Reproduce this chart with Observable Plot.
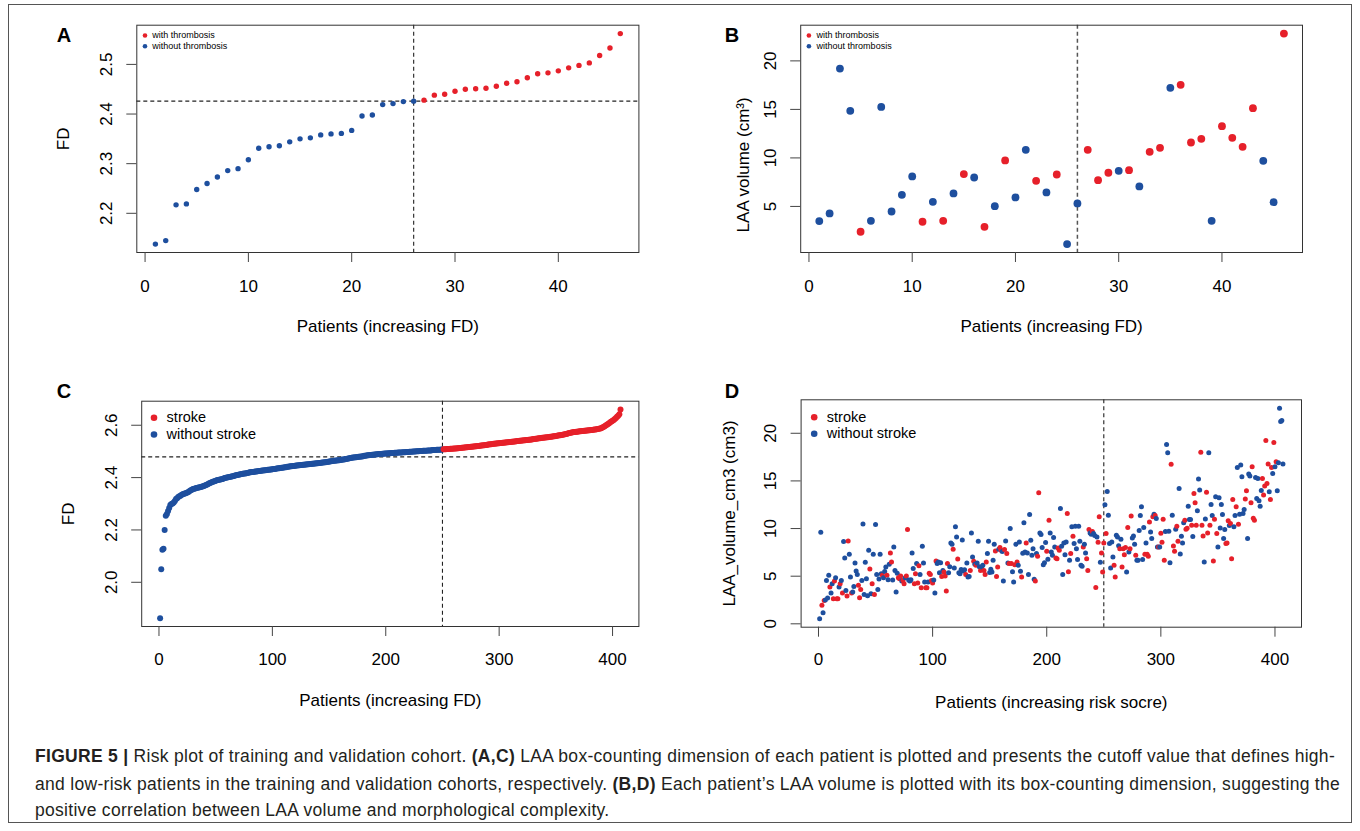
<!DOCTYPE html>
<html><head><meta charset="utf-8">
<script src="https://cdn.jsdelivr.net/npm/d3@7"></script>
<script src="https://cdn.jsdelivr.net/npm/@observablehq/plot@0.6"></script>
<style>
html,body{margin:0;padding:0;background:#fff;}
#fig{position:relative;width:1360px;height:831px;overflow:hidden;font-family:"Liberation Sans",Arial,sans-serif;background:#fff;}
.panel{position:absolute;}
.panel svg{overflow:visible;max-width:none;}
.letter{position:absolute;font-weight:bold;font-size:20px;line-height:1;transform:translate(-50%,-50%);color:#000;}
#border{position:absolute;left:8px;top:4px;width:1344px;height:819px;border:1px solid #555;box-sizing:border-box;}
.cap{position:absolute;left:35px;white-space:nowrap;font-size:17.5px;color:#231f20;line-height:1;transform:translateY(-50%);}
.cap b{font-weight:bold;}
</style></head>
<body><div id="fig">
<div id="border"></div>
<div class="panel" id="pA"></div><div class="panel" id="pB"></div>
<div class="panel" id="pC"></div><div class="panel" id="pD"></div>
<div class="letter" style="left:64px;top:35px">A</div>
<div class="letter" style="left:732px;top:35px">B</div>
<div class="letter" style="left:64px;top:391px">C</div>
<div class="letter" style="left:732px;top:391px">D</div>
<div class="cap" id="cap1" style="top:757px"><b>FIGURE 5 |</b> Risk plot of training and validation cohort. <b>(A,C)</b> LAA box-counting dimension of each patient is plotted and presents the cutoff value that defines high-</div>
<div class="cap" style="top:785px">and low-risk patients in the training and validation cohorts, respectively. <b>(B,D)</b> Each patient’s LAA volume is plotted with its box-counting dimension, suggesting the</div>
<div class="cap" style="top:811px">positive correlation between LAA volume and morphological complexity.</div>
</div>
<script>
// ---------------- DATA ----------------
const RED = "#E6202A", BLUE = "#1E4F9E";

// Panel A: FD of 46 training patients (sorted)
const aFD = [2.138,2.145,2.217,2.219,2.248,2.260,2.273,2.286,2.290,2.308,2.331,2.334,2.336,2.344,2.350,2.352,2.358,2.360,2.361,2.367,2.396,2.398,2.419,2.421,2.425,2.426,2.428,2.438,2.440,2.446,2.450,2.451,2.452,2.456,2.462,2.465,2.473,2.481,2.483,2.487,2.493,2.498,2.503,2.518,2.533,2.562];
const aCutIndex = 26, aCutFD = 2.426;
const abLegend = ["with thrombosis", "without thrombosis"];

// Panel B: LAA volume of the same 46 patients
const bVolume = [3.49,4.28,19.21,14.85,2.39,3.52,15.26,4.48,6.20,8.09,3.42,5.48,3.52,6.34,8.33,7.98,2.90,5.03,9.74,5.93,10.83,7.64,6.44,8.29,1.12,5.31,10.83,7.71,8.47,8.67,8.74,7.06,10.63,11.04,17.22,17.53,11.59,11.97,3.52,13.27,12.07,11.14,15.13,9.70,5.44,22.81];
const bGroup = "bbbbrbbbbb"+"rbrbrbrbrb"+"brbrbbrrrb"+"rbrrbrrrbr"+"rrrbbr";
const bCutIndex = 26;

// Panel C: FD of 407 validation patients (sorted)
const cFD = [
1.863,2.050,2.124,2.128,2.200,2.254,2.261,2.272,2.284,2.295,
2.299,2.301,2.305,2.311,2.318,2.321,2.326,2.329,2.331,2.334,
2.336,2.338,2.339,2.341,2.343,2.345,2.349,2.352,2.354,2.356,
2.357,2.358,2.360,2.361,2.362,2.363,2.364,2.366,2.367,2.369,
2.371,2.373,2.375,2.377,2.379,2.381,2.383,2.385,2.386,2.388,
2.390,2.391,2.392,2.393,2.394,2.395,2.397,2.398,2.399,2.400,
2.401,2.402,2.403,2.404,2.405,2.406,2.408,2.409,2.410,2.411,
2.412,2.413,2.414,2.415,2.416,2.416,2.417,2.418,2.419,2.420,
2.420,2.421,2.421,2.422,2.423,2.423,2.424,2.425,2.425,2.426,
2.427,2.427,2.428,2.428,2.429,2.430,2.430,2.431,2.431,2.432,
2.433,2.433,2.434,2.435,2.436,2.436,2.437,2.438,2.438,2.439,
2.440,2.440,2.441,2.441,2.442,2.443,2.443,2.444,2.444,2.445,
2.446,2.446,2.447,2.447,2.448,2.448,2.449,2.449,2.450,2.450,
2.451,2.451,2.452,2.452,2.453,2.453,2.454,2.454,2.455,2.455,
2.456,2.456,2.457,2.458,2.458,2.459,2.459,2.460,2.461,2.461,
2.462,2.462,2.463,2.464,2.464,2.465,2.465,2.466,2.466,2.467,
2.468,2.469,2.469,2.470,2.471,2.472,2.473,2.474,2.475,2.476,
2.477,2.477,2.478,2.478,2.479,2.480,2.480,2.481,2.481,2.482,
2.483,2.483,2.484,2.485,2.485,2.486,2.486,2.487,2.487,2.488,
2.488,2.489,2.489,2.490,2.490,2.490,2.491,2.491,2.492,2.492,
2.492,2.493,2.493,2.493,2.494,2.494,2.494,2.495,2.495,2.495,
2.496,2.496,2.496,2.496,2.497,2.497,2.497,2.498,2.498,2.498,
2.499,2.499,2.499,2.500,2.500,2.500,2.501,2.501,2.501,2.502,
2.502,2.502,2.503,2.503,2.503,2.503,2.504,2.504,2.504,2.504,
2.505,2.505,2.505,2.505,2.506,2.506,2.506,2.506,2.507,2.507,
2.508,2.508,2.508,2.509,2.509,2.509,2.510,2.510,2.510,2.511,
2.511,2.511,2.512,2.512,2.513,2.513,2.514,2.514,2.515,2.515,
2.516,2.516,2.517,2.517,2.518,2.518,2.519,2.519,2.520,2.520,
2.521,2.521,2.522,2.523,2.523,2.524,2.524,2.525,2.525,2.526,
2.526,2.527,2.527,2.528,2.529,2.529,2.530,2.530,2.531,2.531,
2.532,2.532,2.533,2.533,2.534,2.534,2.535,2.535,2.536,2.536,
2.537,2.537,2.538,2.538,2.539,2.540,2.540,2.541,2.541,2.542,
2.542,2.543,2.543,2.544,2.544,2.545,2.545,2.546,2.546,2.547,
2.547,2.548,2.548,2.549,2.550,2.550,2.551,2.552,2.552,2.553,
2.553,2.554,2.554,2.555,2.556,2.556,2.557,2.558,2.558,2.559,
2.560,2.561,2.562,2.562,2.563,2.564,2.565,2.566,2.567,2.568,
2.569,2.570,2.571,2.572,2.573,2.574,2.574,2.575,2.575,2.576,
2.577,2.577,2.578,2.578,2.579,2.579,2.580,2.580,2.581,2.581,
2.582,2.582,2.583,2.584,2.584,2.585,2.586,2.587,2.588,2.589,
2.591,2.593,2.596,2.599,2.602,2.605,2.608,2.611,2.614,2.617,
2.620,2.624,2.628,2.632,2.636,2.642,2.660];
const cCutIndex = 250, cCutFD = 2.479;
const cdLegend = ["stroke", "without stroke"];

// Panel D: LAA volume of the 407 validation patients (ordered by risk score)
const dVolume = [
0.53,9.61,1.96,1.16,2.46,2.50,4.56,2.70,5.09,3.86,
3.23,4.20,2.63,4.50,4.84,2.63,2.63,3.86,4.20,4.56,
3.23,8.63,6.91,3.50,2.91,8.70,7.30,4.91,3.23,3.33,
3.93,6.39,5.54,5.19,4.04,2.74,3.61,4.56,10.49,3.09,
6.46,4.74,2.95,7.72,5.75,3.16,4.20,7.30,3.09,10.42,
5.19,3.61,4.70,7.30,5.26,5.09,4.84,5.50,5.96,5.09,
4.63,6.25,7.44,6.49,4.60,8.07,5.61,3.33,5.30,4.84,
4.74,5.02,4.50,4.56,4.20,4.84,5.02,9.89,4.60,4.49,
4.63,7.44,5.80,4.20,5.26,6.32,4.28,6.10,5.19,3.79,
8.14,6.39,4.40,3.79,3.79,4.39,5.30,5.19,4.56,4.28,
4.60,3.23,6.60,
6.32,6.49,5.37,6.42,4.98,5.61,5.44,5.02,3.44,6.32,
5.37,6.00,8.49,8.35,7.82,5.86,10.18,9.12,6.81,5.37,
5.26,5.70,8.81,5.54,5.68,5.19,6.39,4.91,4.98,5.60,
9.54,7.02,6.56,6.25,6.14,6.39,8.67,6.00,5.61,5.96,
6.14,5.61,5.19,6.49,7.37,8.67,5.40,5.72,5.44,6.67,
8.35,7.65,4.98,5.96,7.82,8.00,7.72,7.60,4.49,7.79,
8.70,7.37,6.39,6.32,10.00,6.32,5.47,4.39,6.20,8.35,
6.49,6.14,8.60,5.51,4.91,7.40,10.60,7.54,8.49,7.44,
5.19,11.47,8.77,7.20,7.89,4.67,4.49,7.37,7.09,13.75,
9.54,9.37,8.00,6.21,6.42,8.53,7.61,6.77,10.88,9.54,
7.54,7.19,9.05,8.07,6.91,6.84,7.96,7.72,12.10,8.14,
5.19,8.49,7.26,8.60,11.58,5.47,6.67,7.37,10.18,9.19,
8.42,10.25,7.89,6.74,10.25,8.67,6.14,6.04,8.07,8.35,
7.44,6.84,5.61,9.89,9.54,9.40,9.68,9.47,9.26,3.82,
9.12,8.56,11.23,6.46,7.44,5.44,8.49,
12.49,9.47,13.89,11.40,8.42,5.86,8.60,7.02,6.14,4.91,
9.30,9.12,8.20,7.89,8.88,5.96,7.89,7.26,8.00,5.44,
10.11,7.54,7.89,11.33,9.02,9.23,8.35,7.19,6.67,6.67,
9.80,11.37,12.28,6.74,10.11,7.30,8.49,7.30,7.09,10.70,
9.65,8.95,11.23,11.51,11.37,11.05,8.07,8.07,8.07,9.50,
8.56,10.98,6.67,9.68,18.81,17.96,9.72,6.42,16.74,11.40,
8.18,7.61,9.93,10.25,8.67,14.21,7.33,9.19,8.49,10.60,
10.88,9.93,10.04,12.35,10.95,10.95,10.35,9.16,13.68,12.70,
10.35,11.86,15.19,14.04,18.00,10.35,9.23,6.49,11.00,13.82,
9.54,17.96,10.35,12.53,11.37,6.60,10.98,13.33,9.47,8.07,
13.23,10.07,12.53,11.47,8.95,9.90,8.42,8.49,10.81,10.32,
10.53,6.84,13.05,10.18,11.37,12.28,16.42,10.46,11.51,16.67,
15.44,11.58,12.00,13.09,13.96,8.95,15.72,15.51,12.70,16.49,
11.09,10.88,15.37,13.16,15.26,12.91,12.35,14.00,15.26,13.51,
14.46,19.23,14.74,16.77,13.86,13.05,16.42,15.79,19.02,16.49,
17.02,13.96,16.90,22.63,21.23,21.33,16.77];
const dGroup =
 "bbrbrbbbbr"+"bbrrbrrbrb"+"rbbbrrbbrb"+"bbbbrrrbbb"+"bbbbrbrbrb"+"bbbbbrbbbr"+"bbrrbbbbbr"+"rrbrrbrrbb"+"bbbrrbrrbr"+"bbbrrbrrrr"+"bbr"
+"bbbbrbrrrr"+"bbbbrbbbrb"+"bbbbbrbbbr"+"bbrbrbbbrb"+"brrrbbbbbb"+"brrrbrrbbr"+"brbrbrbbrb"+"rbbbrbbbrb"+"bbbbbbrbrr"+"bbbbbbrbrb"+"bbbbrrrrbb"+"bbbbrrbrbr"+"bbbbbbbbrb"+"brrrbbrbbr"+"brrbrrr"
+"brbbbbbbrr"+"bbbrbrrrrb"+"rbrrbbbrbb"+"bbbbbrbrrr"+"bbrbrbbrbr"+"rrrbbbbbrb"+"rrbrrbbbbb"+"rrrbbbrbrr"+"rbbbrrrbbr"+"rbrbbrrbrb"+"bbbbbbrrrb"+"rrrbbrbrbb"+"bbbrrbbbrr"+"rrbbbbbbrr"+"rrrrbrrbrb"+"rbbbbbb";
const dCutIndex = 250;

// Tick labels
const aXTicks = [0,10,20,30,40], aYTicks = [2.2,2.3,2.4,2.5];
const bXTicks = [0,10,20,30,40], bYTicks = [5,10,15,20];
const cXTicks = [0,100,200,300,400], cYTicks = [2.0,2.2,2.4,2.6];
const dXTicks = [0,100,200,300,400], dYTicks = [0,5,10,15,20];

// Axis titles
const titleFD = "FD", titlePatientsFD = "Patients (increasing FD)";
const titleBVol = "LAA volume (cm³)";
const titleDVol = "LAA_volume_cm3 (cm3)", titlePatientsRisk = "Patients (increasing risk socre)";

// ---------------- DRAW ----------------
const FONT = '"Liberation Sans", Arial, Helvetica, sans-serif';
const ext = v => { const lo = d3.min(v), hi = d3.max(v), r = hi - lo; return [lo - 0.04*r, hi + 0.04*r]; };
const colorOf = g => g === "r" ? RED : BLUE;

function legendMarks(labels, o) {
  return labels.map((lab, i) => [
    Plot.dot([lab], {frameAnchor: "top-left", dx: o.dx, dy: o.dy0 + i*o.step, r: o.r, fill: i === 0 ? RED : BLUE}),
    Plot.text([lab], {frameAnchor: "top-left", text: d => d, dx: o.tdx, dy: o.dy0 + i*o.step, textAnchor: "start", lineAnchor: "middle", fontSize: o.fs, fill: "#000"})
  ]);
}

function panel(id, c) {
  const el = document.getElementById(id);
  el.style.left = c.left + "px"; el.style.top = c.top + "px";
  const p = Plot.plot({
    width: c.width, height: c.height,
    marginLeft: c.fx0 - c.left, marginRight: c.left + c.width - c.fx1,
    marginTop: c.fy0 - c.top, marginBottom: c.top + c.height - c.fy1,
    x: {domain: c.xDomain}, y: {domain: c.yDomain},
    style: {fontFamily: FONT, fontSize: "17px", color: "#000", background: "transparent", overflow: "visible"},
    marks: [
      ...c.rules,
      Plot.dot(c.data, {x: "i", y: "v", fill: "c", r: c.r}),
      Plot.frame({stroke: "#333", strokeWidth: 1}),
      Plot.axisX({ticks: c.xTicks, tickSize: 10, tickPadding: c.xPad, fontSize: 17, stroke: "#444", label: null, tickFormat: d3.format("d")}),
      Plot.axisY({ticks: c.yTicks, tickSize: 10, tickPadding: 15, tickRotate: -90, fontSize: 17, stroke: "#444", label: null, tickFormat: c.yFormat}),
      Plot.text([c.xTitle], {frameAnchor: "bottom", text: d => d, dy: c.xTitleDy, textAnchor: "middle", lineAnchor: "middle", fontSize: 17, fill: "#000"}),
      Plot.text([c.yTitle], {frameAnchor: "left", text: d => d, dx: c.yTitleDx, dy: c.yTitleDy || 0, rotate: -90, textAnchor: "middle", lineAnchor: "middle", fontSize: 17, fill: "#000"}),
      ...c.legend
    ]
  });
  el.appendChild(p);
}

const dash = {stroke: "#222", strokeWidth: 1.1, strokeDasharray: "4,3"};
const f1 = d3.format(".1f"), f0 = d3.format("d");

// A
const aData = aFD.map((v, k) => ({i: k + 1, v, c: k + 1 <= aCutIndex ? BLUE : RED}));
panel("pA", {left: 20, top: 0, width: 650, height: 345, fx0: 136.3, fx1: 638.4, fy0: 24.7, fy1: 252,
  xDomain: ext(aData.map(d => d.i)), yDomain: ext(aFD), data: aData, r: 2.7,
  xTicks: aXTicks, yTicks: aYTicks, xPad: 17, yFormat: f1,
  rules: [Plot.ruleX([aCutIndex], dash), Plot.ruleY([aCutFD], dash)],
  xTitle: titlePatientsFD, xTitleDy: 74, yTitle: titleFD, yTitleDx: -73.4,
  legend: legendMarks(abLegend, {dx: 8.2, tdx: 15.5, dy0: 10.3, step: 10.7, r: 2.3, fs: 9})});

// B
const bData = bVolume.map((v, k) => ({i: k + 1, v, c: colorOf(bGroup[k])}));
panel("pB", {left: 690, top: 0, width: 650, height: 345, fx0: 800.2, fx1: 1302, fy0: 24.7, fy1: 252,
  xDomain: ext(bData.map(d => d.i)), yDomain: ext(bVolume), data: bData, r: 3.9,
  xTicks: bXTicks, yTicks: bYTicks, xPad: 17, yFormat: f0,
  rules: [Plot.ruleX([bCutIndex], {stroke: "#555", strokeWidth: 1.5, strokeDasharray: "4,3"})],
  xTitle: titlePatientsFD, xTitleDy: 74, yTitle: titleBVol, yTitleDx: -57.2, yTitleDy: 26,
  legend: legendMarks(abLegend, {dx: 8.2, tdx: 15.9, dy0: 10.3, step: 10.7, r: 2.3, fs: 9})});

// C
const cData = cFD.map((v, k) => ({i: k + 1, v, c: k + 1 <= cCutIndex ? BLUE : RED}));
panel("pC", {left: 20, top: 360, width: 650, height: 370, fx0: 141.2, fx1: 638.4, fy0: 400.7, fy1: 626,
  xDomain: ext(cData.map(d => d.i)), yDomain: ext(cFD), data: cData, r: 3,
  xTicks: cXTicks, yTicks: cYTicks, xPad: 16, yFormat: f1,
  rules: [Plot.ruleX([cCutIndex], dash), Plot.ruleY([cCutFD], dash)],
  xTitle: titlePatientsFD, xTitleDy: 74, yTitle: titleFD, yTitleDx: -73.2,
  legend: legendMarks(cdLegend, {dx: 12.3, tdx: 24.9, dy0: 16.6, step: 16.7, r: 3.3, fs: 14.5})});

// D
const dData = dVolume.map((v, k) => ({i: k + 1, v, c: colorOf(dGroup[k])}));
panel("pD", {left: 690, top: 360, width: 650, height: 370, fx0: 800.6, fx1: 1301, fy0: 399.3, fy1: 626.7,
  xDomain: ext(dData.map(d => d.i)), yDomain: ext(dVolume), data: dData, r: 2.5,
  xTicks: dXTicks, yTicks: dYTicks, xPad: 16, yFormat: f0,
  rules: [Plot.ruleX([dCutIndex], dash)],
  xTitle: titlePatientsRisk, xTitleDy: 75, yTitle: titleDVol, yTitleDx: -71.8,
  legend: legendMarks(cdLegend, {dx: 13.1, tdx: 25.7, dy0: 17.4, step: 16.6, r: 3.3, fs: 14.5})});

// Caption: small letter-spacing adjustment so the first line spans the reference width
const caps = document.querySelectorAll(".cap");
const l1 = document.getElementById("cap1");
const w = l1.getBoundingClientRect().width;
const n = l1.textContent.length;
let ls = (1300 - w) / n; ls = Math.max(-0.4, Math.min(0.4, ls));
caps.forEach(e => e.style.letterSpacing = ls + "px");
</script>
</body></html>
